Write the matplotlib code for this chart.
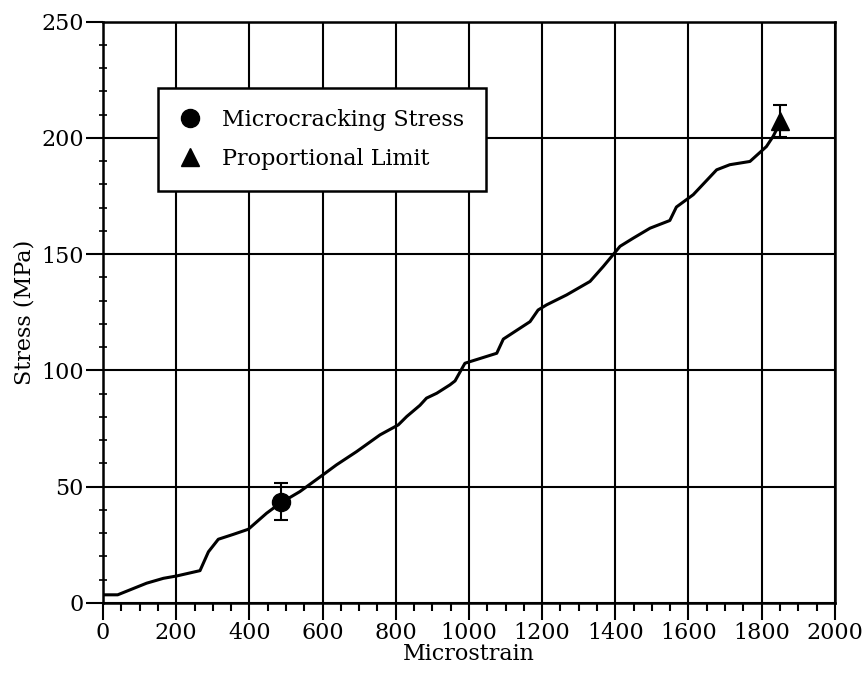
import numpy as np
import matplotlib
matplotlib.use("Agg")
import matplotlib.pyplot as plt
from matplotlib.ticker import MultipleLocator

plt.rcParams['font.family'] = ['DejaVu Serif']

# stress-strain curve
strain = [0, 40, 119, 165, 201, 265, 288, 315, 356, 397, 447, 484, 538, 607, 638,
          693, 757, 807, 830, 866, 884, 912, 948, 962, 989, 1003, 1076, 1094, 1167,
          1189, 1212, 1267, 1331, 1367, 1413, 1449, 1495, 1549, 1567, 1613, 1677,
          1713, 1768, 1813, 1831, 1850]
stress = [3.5, 3.5, 8.5, 10.6, 11.6, 13.9, 22, 27.4, 29.5, 31.7, 38.6, 42.9, 47.9,
          55.8, 59.4, 65.1, 72.3, 76.6, 80.2, 85.0, 88.1, 90.2, 93.8, 95.5, 103.1,
          103.8, 107.4, 113.5, 121, 126, 128.2, 132.5, 138.3, 144.7, 153.4, 156.9,
          161.2, 164.5, 170.3, 175.6, 186.3, 188.5, 189.9, 196.3, 200.6, 206.4]

# markers with error bars
micro_x, micro_y, micro_err = 486, 43.5, 8.0
prop_x, prop_y, prop_err = 1850, 207.2, 6.8

fig = plt.figure(figsize=(8.66, 6.79), dpi=100)
ax = fig.add_axes([0.119, 0.112, 0.845, 0.856])

ax.plot(strain, stress, color='black', lw=2.2, zorder=3)
ax.errorbar(micro_x, micro_y, yerr=micro_err, fmt='o', color='black', ms=13,
            capsize=5, elinewidth=1.5, capthick=1.5, zorder=4, label='Microcracking Stress')
ax.errorbar(prop_x, prop_y, yerr=prop_err, fmt='^', color='black', ms=13,
            capsize=5, elinewidth=1.5, capthick=1.5, zorder=4, label='Proportional Limit')

ax.set_xlim(0, 2000)
ax.set_ylim(0, 250)
ax.xaxis.set_major_locator(MultipleLocator(200))
ax.xaxis.set_minor_locator(MultipleLocator(50))
ax.yaxis.set_major_locator(MultipleLocator(50))
ax.yaxis.set_minor_locator(MultipleLocator(10))
ax.grid(True, which='major', color='black', lw=1.5)
ax.set_axisbelow(True)

ax.tick_params(which='major', direction='out', length=12, width=1.5, labelsize=16, pad=2)
ax.tick_params(axis='x', which='minor', direction='out', length=6, width=1.5)
ax.tick_params(axis='y', which='minor', direction='inout', length=6, width=1.2)
for s in ax.spines.values():
    s.set_linewidth(1.8)

ax.set_xlabel('Microstrain', fontsize=16, labelpad=-1)
ax.set_ylabel('Stress (MPa)', fontsize=16, labelpad=4)

handles, labels = ax.get_legend_handles_labels()
handles = [h[0] for h in handles]
leg = ax.legend(handles, labels, loc='upper left', bbox_to_anchor=(0.075, 0.886),
                fontsize=16, frameon=True, fancybox=False, edgecolor='black',
                framealpha=1, borderpad=0.95, handletextpad=0.95, handlelength=1.0,
                borderaxespad=0, labelspacing=0.75)
leg.get_frame().set_linewidth(1.8)

fig.savefig('out.png', dpi=100)
